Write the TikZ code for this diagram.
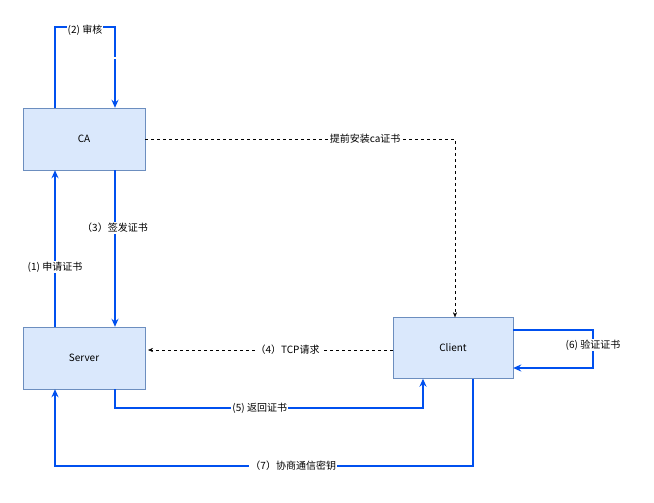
\documentclass[tikz,border=0pt]{standalone}
\usepackage{fontspec}
\setmainfont{Noto Sans CJK SC}
\usetikzlibrary{arrows.meta}
\definecolor{boxfill}{HTML}{DAE8FC}
\definecolor{boxline}{HTML}{6C8EBF}
\definecolor{flow}{HTML}{0050EF}
\begin{document}
\begin{tikzpicture}[x=1pt,y=-1pt,font=\fontsize{10}{12}\selectfont]
%style for boxes
\tikzset{box/.style={rectangle, fill=boxfill, draw=boxline, minimum width=122pt, minimum height=62pt}}
%style for solid and dashed connectors
\tikzset{flowline/.style={draw=flow, line width=1.6pt, -{Stealth[length=8pt,width=7pt]}}}
\tikzset{dashline/.style={dashed, -{Stealth[length=5pt,width=4pt]}}}
%style for labels
\tikzset{lbl/.style={fill=white, inner sep=1pt}}

\useasboundingbox (0,0) rectangle (654,503);

%place nodes
\node[box](CA) at (84,139) {CA};
\node[box](server) at (84,358) {Server};
\node[box, minimum width=120pt, minimum height=61pt](client) at (453,348) {Client};

%corner points
\coordinate (caTop) at (55,27);
\coordinate (caTop2) at (115,27);
\coordinate (caRight) at (455,139);
\coordinate (srvLeft) at (148,350);
\coordinate (ret) at (115,408);
\coordinate (ret2) at (423,408);
\coordinate (loop) at (593,330);
\coordinate (loop2) at (593,368);
\coordinate (neg) at (473,466);
\coordinate (neg2) at (55,466);

%connect nodes
\draw[flowline] (CA.north -| caTop) -- (caTop) -- (caTop2) -- (CA.north -| caTop2)
  node[lbl, pos=0.33, above=-6pt] at (85,30) {};
\node[lbl] at (85,30) {(2) 审核};
\draw[flowline] (CA.south -| caTop2) -- node[lbl, pos=0.37]{（3）签发证书} (server.north -| caTop2);
\draw[flowline] (server.north -| caTop) -- node[lbl, pos=0.38]{(1) 申请证书} (CA.south -| caTop);
\draw[dashline] (CA.east) -- node[lbl, pos=0.71]{提前安装ca证书} (caRight) -- (client.north -| caRight);
\draw[dashline] (client.west |- srvLeft) -- node[lbl, pos=0.43]{（4）TCP请求} (srvLeft);
\draw[flowline] (server.south -| ret) -- (ret) -- node[lbl, pos=0.47]{(5) 返回证书} (ret2) -- (client.south -| ret2);
\draw[flowline] (client.east |- loop) -- (loop) -- node[lbl, pos=0.4]{(6) 验证证书} (loop2) -- (client.east |- loop2);
\draw[flowline] (client.south -| neg) -- (neg) -- node[lbl, pos=0.43]{（7）协商通信密钥} (neg2) -- (server.south -| neg2);
\end{tikzpicture}
\end{document}
